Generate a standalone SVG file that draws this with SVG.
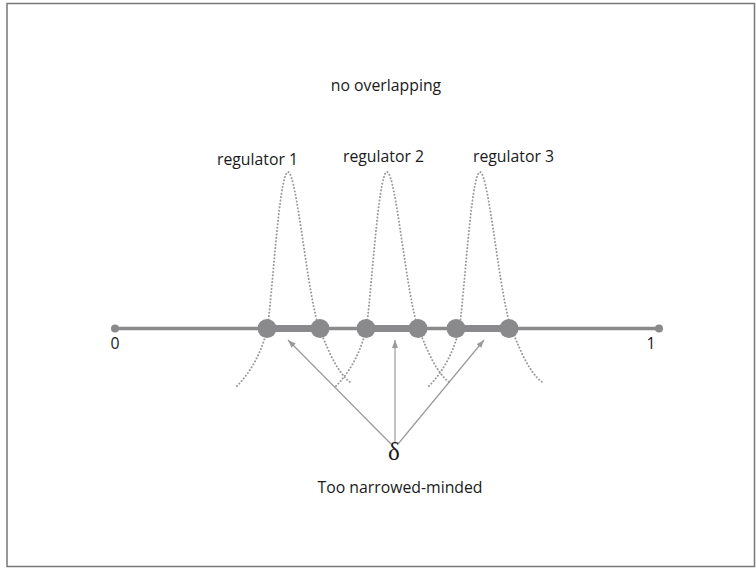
<svg xmlns="http://www.w3.org/2000/svg" width="756" height="568" viewBox="0 0 756 568">
<style>
.t{font-family:"Open Sans","Liberation Sans",sans-serif;font-size:15.8px;fill:#1a1a1a;text-anchor:middle}
.bell{fill:none;stroke:#999;stroke-width:2;stroke-dasharray:0.01 3.4;stroke-linecap:round}
.axis{stroke:#8a8a8c;stroke-linecap:butt}
.dot{fill:#8a8a8c}
.arr{stroke:#9a9a9a;stroke-width:1.2;fill:none;marker-end:url(#ah)}
</style>
<defs>
<path id="bellshape" d="M-51,214 C-41,204 -28,186 -21,158 C-16,130 -9,0 0,0 C9,0 20,130 32,158 C37,170 48,200 62,210"/>
<marker id="ah" markerUnits="userSpaceOnUse" markerWidth="9" markerHeight="7" refX="8" refY="3" orient="auto">
<path d="M0,0 L8,3 L0,6 z" fill="#9a9a9a"/>
</marker>
</defs>
<rect x="7" y="3.5" width="747.5" height="563" fill="#fff" stroke="#777" stroke-width="1.5"/>
<text class="t" x="386" y="91">no overlapping</text>
<g id="axis">
<line class="axis" x1="115" y1="328.5" x2="659" y2="328.5" stroke-width="3.5"/>
<circle class="dot" cx="115" cy="328.5" r="4"/>
<circle class="dot" cx="659" cy="328.5" r="4"/>
<text class="t" x="115" y="349">0</text>
<text class="t" x="651" y="349">1</text>
</g>
<g id="regulator1">
<use href="#bellshape" class="bell" transform="translate(288,172)"/>
<line class="axis" x1="267" y1="328.5" x2="320" y2="328.5" stroke-width="7"/>
<circle class="dot" cx="267" cy="328.5" r="9.5"/>
<circle class="dot" cx="320" cy="328.5" r="9.5"/>
<text class="t" x="257.5" y="165">regulator 1</text>
</g>
<g id="regulator2">
<use href="#bellshape" class="bell" transform="translate(387,172)"/>
<line class="axis" x1="366" y1="328.5" x2="418" y2="328.5" stroke-width="7"/>
<circle class="dot" cx="366" cy="328.5" r="9.5"/>
<circle class="dot" cx="418" cy="328.5" r="9.5"/>
<text class="t" x="383.5" y="162">regulator 2</text>
</g>
<g id="regulator3">
<use href="#bellshape" class="bell" transform="translate(480,172)"/>
<line class="axis" x1="456" y1="328.5" x2="509" y2="328.5" stroke-width="7"/>
<circle class="dot" cx="456" cy="328.5" r="9.5"/>
<circle class="dot" cx="509" cy="328.5" r="9.5"/>
<text class="t" x="513.5" y="162">regulator 3</text>
</g>
<g id="connectors">
<line class="arr" x1="391" y1="444" x2="288" y2="340"/>
<line class="arr" x1="395" y1="444" x2="395" y2="340"/>
<line class="arr" x1="398" y1="444" x2="484" y2="340"/>
</g>
<g id="delta">
<text x="394" y="460" style="font-family:'Liberation Serif',serif;font-size:25px;fill:#1a1a1a;text-anchor:middle">δ</text>
<text class="t" x="400" y="493">Too narrowed-minded</text>
</g>
</svg>
